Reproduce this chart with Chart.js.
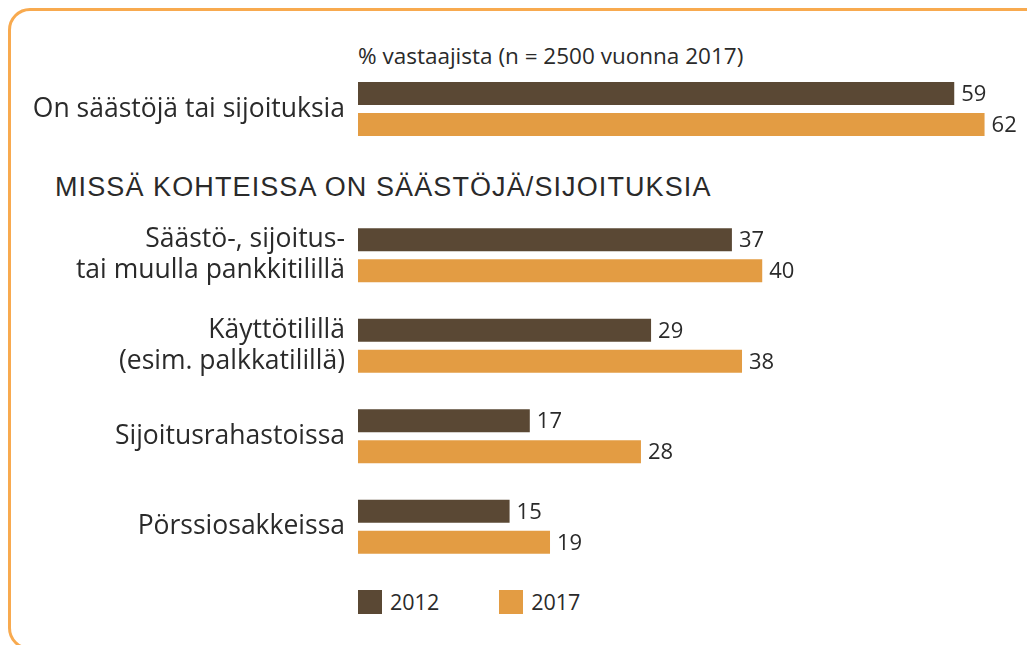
<!DOCTYPE html>
<html>
<head>
<meta charset="utf-8">
<script src="https://cdn.jsdelivr.net/npm/chart.js@4"></script>
<style>
    body { margin: 0; width: 1027px; height: 645px; overflow: hidden; background: #fff; position: relative;
           font-family: 'Open Sans', sans-serif; color: #2a2a2a; }
    .frame { position: absolute; left: 8px; top: 8px; width: 1100px; height: 642px; box-sizing: border-box;
             border: 3px solid #f8aa4f; border-radius: 22px; }
    .subtitle { position: absolute; left: 358px; top: 41px; font-size: 22.5px; line-height: 30px; white-space: nowrap; }
    .section { position: absolute; left: 55px; top: 174px; font-family: 'Liberation Sans Narrow', sans-serif;
               font-size: 27px; line-height: 27px; letter-spacing: 1.1px; white-space: nowrap; }
    canvas { position: absolute; left: 0; }
    #chart-top { top: 70px; }
    #chart-bottom { top: 210px; }
    .legend { position: absolute; left: 358px; top: 587px; display: flex; }
    .legend-item { display: flex; align-items: center; margin-right: 60px; font-size: 21.5px; }
    .legend-item span { display: inline-block; width: 24px; height: 24px; margin-right: 8px; }
</style>
</head>
<body>
<div class="frame"></div>
<div class="subtitle">% vastaajista (n = 2500 vuonna 2017)</div>
<div class="section">MISSÄ KOHTEISSA ON SÄÄSTÖJÄ/SIJOITUKSIA</div>
<canvas id="chart-top" width="1027" height="78"></canvas>
<canvas id="chart-bottom" width="1027" height="362"></canvas>
<div class="legend" id="legend"></div>

<script>
const years = ['2012', '2017'];
const colors = ['#5a4834', '#e39c43'];

const topCategories = ['On säästöjä tai sijoituksia'];
const top2012 = [59];
const top2017 = [62];

const categories = [
    ['Säästö-, sijoitus-', 'tai muulla pankkitilillä'],
    ['Käyttötilillä', '(esim. palkkatilillä)'],
    'Sijoitusrahastoissa',
    'Pörssiosakkeissa'
];
const values2012 = [37, 29, 17, 15];
const values2017 = [40, 38, 28, 19];

const X_MAX = 66.2;

const valueLabels = {
    id: 'valueLabels',
    afterDatasetsDraw(chart) {
        const ctx = chart.ctx;
        ctx.save();
        ctx.font = '22px "Open Sans"';
        ctx.fillStyle = '#2a2a2a';
        ctx.textBaseline = 'middle';
        ctx.textAlign = 'left';
        chart.data.datasets.forEach((ds, i) => {
            chart.getDatasetMeta(i).data.forEach((bar, j) => {
                ctx.fillText(ds.data[j], bar.x + 7, bar.y + 1);
            });
        });
        ctx.restore();
    }
};

function makeChart(id, labels, d2012, d2017, catPct) {
    const ctx = document.getElementById(id).getContext('2d');
    return new Chart(ctx, {
        type: 'bar',
        data: {
            labels: labels,
            datasets: [
                { label: years[0], data: d2012, backgroundColor: colors[0] },
                { label: years[1], data: d2017, backgroundColor: colors[1] }
            ]
        },
        options: {
            indexAxis: 'y',
            responsive: false,
            animation: false,
            categoryPercentage: catPct,
            barPercentage: 23 / 31,
            layout: { padding: 0 },
            plugins: {
                legend: { display: false },
                tooltip: { enabled: false }
            },
            scales: {
                x: { display: false, min: 0, max: X_MAX },
                y: {
                    grid: { display: false, drawTicks: false },
                    border: { display: false },
                    ticks: {
                        color: '#2a2a2a',
                        padding: 13,
                        font: { family: 'Open Sans', size: 26.5, lineHeight: 1.17 }
                    },
                    afterFit(scale) {
                        // keep the label column fixed and stop labels from shrinking the plot
                        scale.width = 358;
                        scale.paddingTop = 0;
                        scale.paddingBottom = 0;
                    }
                }
            }
        },
        plugins: [valueLabels]
    });
}

makeChart('chart-top', topCategories, top2012, top2017, 62 / 78);
makeChart('chart-bottom', categories, values2012, values2017, 62 / 90.5);

const legend = document.getElementById('legend');
years.forEach((y, i) => {
    const item = document.createElement('div');
    item.className = 'legend-item';
    item.innerHTML = `<span style="background:${colors[i]}"></span>${y}`;
    legend.appendChild(item);
});
</script>
</body>
</html>
